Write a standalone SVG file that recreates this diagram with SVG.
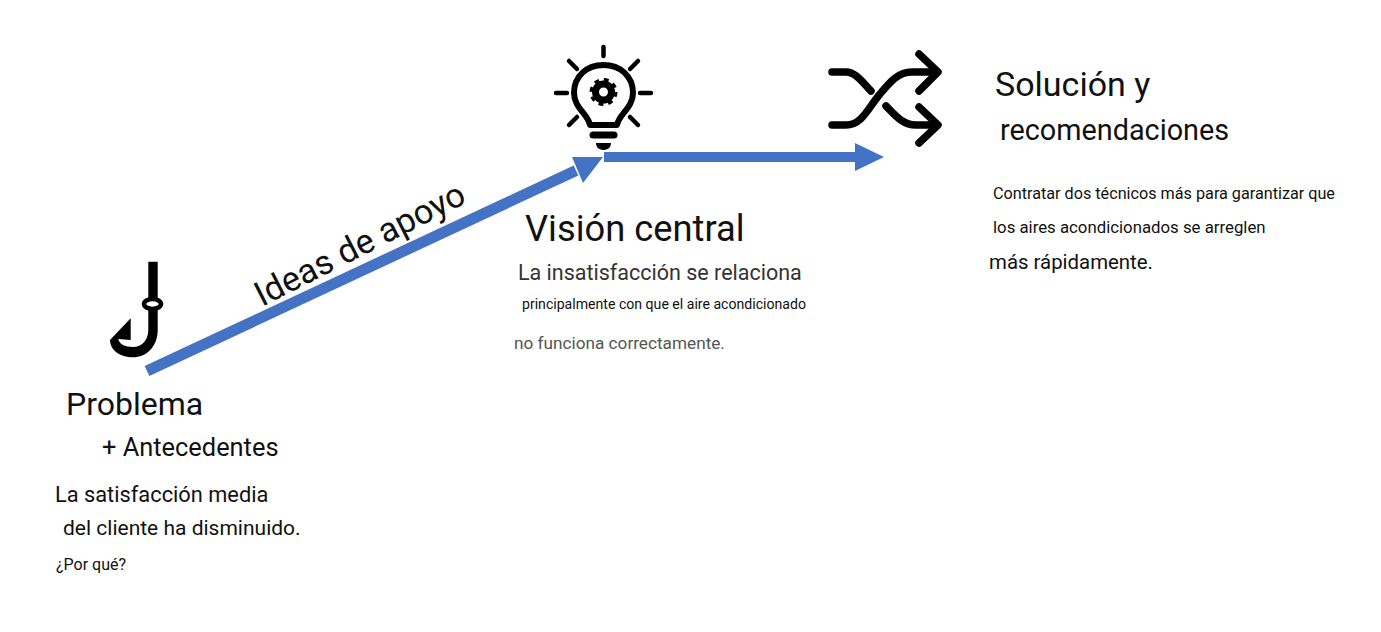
<svg xmlns="http://www.w3.org/2000/svg" width="1381" height="632" viewBox="0 0 1381 632">
<style>
text{font-family:Roboto,"Liberation Sans",sans-serif;fill:#111}
.ic{fill:none;stroke:#000;stroke-linecap:round;stroke-linejoin:round}
</style>
<rect width="1381" height="632" fill="#fff"/>
<g id="connectors">
<path d="M147 371 L576 170.500" stroke="#4472c4" stroke-width="11" fill="none"/>
<polygon points="572,157 603,157 583,183" fill="#4472c4"/>
<rect x="604" y="152" width="252" height="10" fill="#4472c4"/>
<polygon points="855,143 884,157 855,171" fill="#4472c4"/>
</g>
<g id="hook">
<path d="M148.300 261.700H157.700V330C157.700 347 146 357.300 133 357.300C120 357.300 110 350 110 340L130.700 318.300V340L118.300 339C119 344 125 347 133 347C142 347 148.300 340 148.300 330Z" fill="#000"/>
<ellipse cx="152.500" cy="304" rx="8.500" ry="5" fill="#fff" stroke="#000" stroke-width="4.500"/>
<text x="66" y="415" style="font-size:32px">Problema</text>
<text x="102" y="456" style="font-size:25.400px">+ Antecedentes</text>
<text x="55" y="502" style="font-size:21.800px">La satisfacción media</text>
<text x="63" y="535" style="font-size:21px">del cliente ha disminuido.</text>
<text x="56" y="570" style="font-size:16px">¿Por qué?</text>
</g>
<g id="ideas">
<text font-size="34.400" transform="translate(262 307) rotate(-27)">Ideas de apoyo</text>
</g>
<g id="vision">
<g class="ic" stroke-width="4.500">
<path d="M603.500 47V56M556 93H567M640 93H651M569 61L577 69M638 61L630 69M569 125L577 117M638 125L630 117"/>
<path d="M590 125H617C619 114 633 108 633 93C633 76 620 65 603.500 65C587 65 574 76 574 93C574 108 588 114 590 125Z" stroke-width="6"/>
<path d="M593 135H614" stroke-width="7"/>
</g>
<path d="M596 143H611C611 148 607 150 603.500 150C600 150 596 148 596 143Z" fill="#000"/>
<circle cx="603.500" cy="92" r="8" fill="none" stroke="#000" stroke-width="7"/>
<circle cx="603.500" cy="92" r="12" fill="none" stroke="#000" stroke-width="4" stroke-dasharray="4.700 4.720"/>
<text x="525" y="241" style="font-size:36.300px">Visión central</text>
<text x="518" y="280" style="font-size:21.500px;fill:#333">La insatisfacción se relaciona</text>
<text x="522" y="309" style="font-size:14.100px">principalmente con que el aire acondicionado</text>
<text x="514" y="349" style="font-size:17.200px;fill:#555">no funciona correctamente.</text>
</g>
<g id="solucion">
<g class="ic" stroke-width="7.500">
<path d="M832 72H846C856 72 864 84 871 91"/>
<path d="M832 125H846C862 125 868 108 880 94C890 82 898 72 912 72H936"/>
<path d="M886 106C894 114 902 125 916 125H936"/>
<path d="M919 54L938 72L919 91M919 107L938 125L919 143"/>
</g>
<text x="995" y="96" style="font-size:34px">Solución y</text>
<text x="1000" y="140" style="font-size:28.800px">recomendaciones</text>
<text x="993" y="199" style="font-size:16.200px">Contratar dos técnicos más para garantizar que</text>
<text x="993" y="233" style="font-size:16.800px">los aires acondicionados se arreglen</text>
<text x="989" y="269" style="font-size:20.400px">más rápidamente.</text>
</g>
</svg>
